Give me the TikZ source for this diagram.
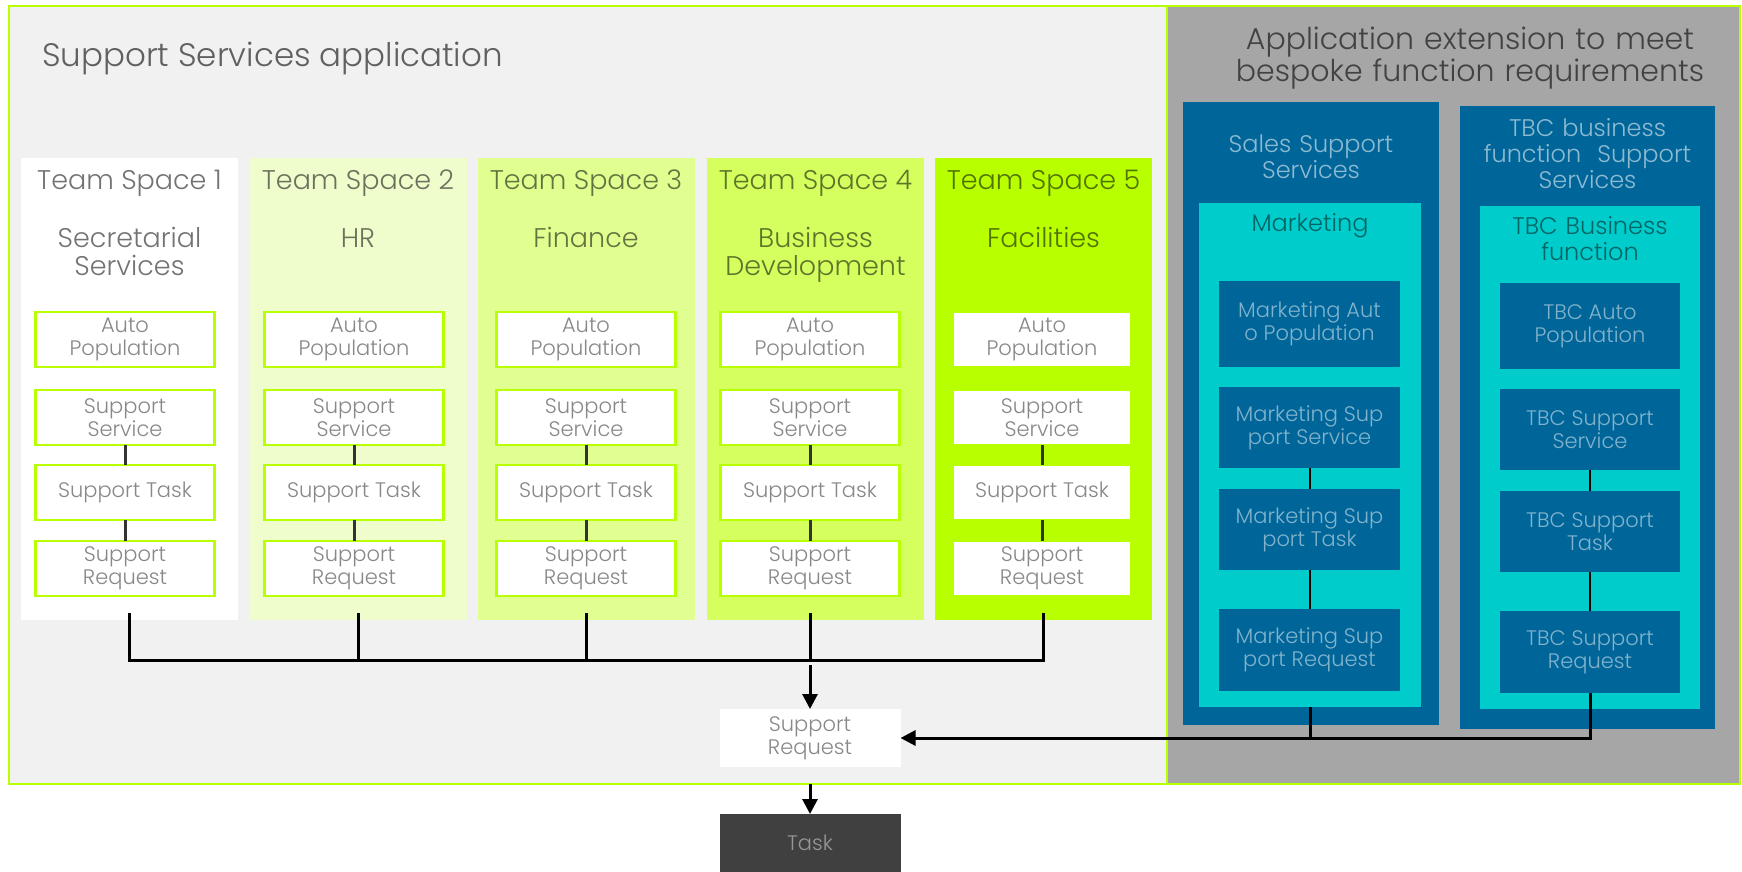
\documentclass[tikz,border=0pt]{standalone}
\usepackage{fontspec}
\setmainfont{Poppins Light}
\usetikzlibrary{arrows.meta}

\definecolor{limeedge}{HTML}{B8FF00}
\definecolor{appbg}{HTML}{F1F1F1}
\definecolor{extbg}{HTML}{A6A6A6}
\definecolor{teamA}{HTML}{FFFFFF}
\definecolor{teamB}{HTML}{EFFDCC}
\definecolor{teamC}{HTML}{E1FF90}
\definecolor{teamD}{HTML}{D4FF5E}
\definecolor{teamE}{HTML}{B8FF00}
\definecolor{steptext}{HTML}{888888}
\definecolor{deepblue}{HTML}{00669A}
\definecolor{aqua}{HTML}{00CCCC}
\definecolor{taskgray}{HTML}{404040}
\definecolor{wiregray}{HTML}{333333}

\tikzset{
  box/.style={rectangle, inner sep=0pt, outer sep=0pt},
  panel/.style={box, draw=limeedge, line width=2pt},
  teambox/.style={box, minimum width=217pt, minimum height=462pt},
  bigtitle/.style={text=black, text opacity=0.6, inner sep=0pt},
  tstitle/.style={font=\fontsize{27}{28}\selectfont, text=black, text opacity=0.55, anchor=base, inner sep=0pt},
  tssub/.style={tstitle, text width=210pt, align=center},
  stepbox/.style={box, draw=limeedge, line width=2.5pt, fill=white, minimum width=179pt,
    minimum height=55pt, align=center, text=steptext, font=\fontsize{21}{23}\selectfont},
  bluebox/.style={box, fill=deepblue},
  aquabox/.style={box, fill=aqua},
  bluetitle/.style={font=\fontsize{24}{26}\selectfont, text=white, text opacity=0.55,
    anchor=base, inner sep=0pt, text width=250pt, align=center},
  aquatitle/.style={font=\fontsize{24}{26}\selectfont, text=black, text opacity=0.5,
    anchor=base, inner sep=0pt, text width=215pt, align=center},
  bluestep/.style={box, fill=deepblue, align=center, text=white, text opacity=0.5,
    font=\fontsize{21}{23}\selectfont},
  plainbox/.style={box, minimum width=181pt, minimum height=58pt, align=center,
    font=\fontsize{21}{23}\selectfont},
  wire/.style={draw=black, line width=3pt},
  innerwire/.style={draw=wiregray, line width=3pt},
  bluewire/.style={draw=black, line width=2pt},
  arrow/.style={wire, -{Triangle[width=15pt,length=15pt]}},
}

\begin{document}
\begin{tikzpicture}[x=1pt, y=-1pt]
  % page
  \fill[white] (0,0) rectangle (1742,872);
  \useasboundingbox (0,0) rectangle (1742,872);

  % the two main panels
  \node[panel, fill=appbg, minimum width=1158pt, minimum height=778pt] (app) at (588,395) {};
  \node[panel, fill=extbg, minimum width=573pt, minimum height=778pt] (ext) at (1453.5,395) {};

  \node[bigtitle, font=\fontsize{32.5}{33}\selectfont, anchor=base west] (apptitle) at (42,67)
    {Support Services application};
  \node[bigtitle, font=\fontsize{30}{32}\selectfont, anchor=base, text width=560pt, align=center]
    (exttitle) at (1470,50) {Application extension to meet\\bespoke function requirements};

  % team spaces
  \node[teambox, fill=teamA] (ts1) at (129.5,389) {};
  \node[teambox, fill=teamB] (ts2) at (358,389) {};
  \node[teambox, fill=teamC] (ts3) at (586,389) {};
  \node[teambox, fill=teamD] (ts4) at (815.5,389) {};
  \node[teambox, fill=teamE] (ts5) at (1043.5,389) {};

  \node[tstitle] (tt1) at (129.5,189) {Team Space 1};
  \node[tstitle] (tt2) at (358,189) {Team Space 2};
  \node[tstitle] (tt3) at (586,189) {Team Space 3};
  \node[tstitle] (tt4) at (815.5,189) {Team Space 4};
  \node[tstitle] (tt5) at (1043.5,189) {Team Space 5};

  \node[tssub] (st1) at (129.5,247) {Secretarial\\Services};
  \node[tssub] (st2) at (358,247) {HR};
  \node[tssub] (st3) at (586,247) {Finance};
  \node[tssub] (st4) at (815.5,247) {Business\\Development};
  \node[tssub] (st5) at (1043.5,247) {Facilities};

  % steps inside each team space
  \foreach \i/\x in {1/125, 2/354, 3/586, 4/810, 5/1042} {
    \node[stepbox] (a\i) at (\x,339.5) {Auto\\Population};
    \node[stepbox] (s\i) at (\x,417.5) {Support\\Service};
    \node[stepbox] (k\i) at (\x,492.5) {Support Task};
    \node[stepbox] (q\i) at (\x,568.5) {Support\\Request};
    \draw[innerwire] (s\i.south) -- (k\i.north);
    \draw[innerwire] (k\i.south) -- (q\i.north);
  }

  % extension: sales support services
  \node[bluebox, minimum width=256pt, minimum height=623pt] (sales) at (1311,413.5) {};
  \node[bluetitle] (salest) at (1311,152) {Sales Support\\Services};
  \node[aquabox, minimum width=222pt, minimum height=504pt] (mkt) at (1310,455) {};
  \node[aquatitle] (mktt) at (1310,231) {Marketing};
  \node[bluestep, minimum width=181pt, minimum height=86pt] (ma) at (1309.5,324) {Marketing Aut\\o Population};
  \node[bluestep, minimum width=181pt, minimum height=81pt] (ms) at (1309.5,427.5) {Marketing Sup\\port Service};
  \node[bluestep, minimum width=181pt, minimum height=81pt] (mk) at (1309.5,529.5) {Marketing Sup\\port Task};
  \node[bluestep, minimum width=181pt, minimum height=82pt] (mq) at (1309.5,650) {Marketing Sup\\port Request};
  \draw[bluewire] (ms.south) -- (mk.north);
  \draw[bluewire] (mk.south) -- (mq.north);

  % extension: TBC business function
  \node[bluebox, minimum width=255pt, minimum height=623pt] (tbc) at (1587.5,417.5) {};
  \node[bluetitle] (tbct) at (1587.5,136) {TBC business\\function\ \ Support\\Services};
  \node[aquabox, minimum width=220pt, minimum height=503pt] (tbf) at (1590,457.5) {};
  \node[aquatitle] (tbft) at (1590,234) {TBC Business\\function};
  \node[bluestep, minimum width=180pt, minimum height=86pt] (ta) at (1590,326) {TBC Auto\\Population};
  \node[bluestep, minimum width=180pt, minimum height=81pt] (ts) at (1590,429.5) {TBC Support\\Service};
  \node[bluestep, minimum width=180pt, minimum height=81pt] (tk) at (1590,531.5) {TBC Support\\Task};
  \node[bluestep, minimum width=180pt, minimum height=82pt] (tq) at (1590,652) {TBC Support\\Request};
  \draw[bluewire] (ts.south) -- (tk.north);
  \draw[bluewire] (tk.south) -- (tq.north);

  % shared request and task
  \node[plainbox, fill=white, text=steptext] (req) at (810,738) {Support\\Request};
  \node[plainbox, fill=taskgray, minimum height=58pt, text=white, text opacity=0.45] (task) at (810,843) {Task};

  % collecting the team space requests
  \coordinate (bus) at (0,660);
  \draw[wire] ([yshift=7pt]ts1.south) -- (ts1.south |- bus)
    -- (ts5.south |- bus) -- ([yshift=7pt]ts5.south);
  \foreach \i in {2,3}
    \draw[wire] ([yshift=7pt]ts\i.south) -- (ts\i.south |- bus);
  \draw[wire] ([yshift=7pt]ts4.south -| q4.south) -- (q4.south |- bus);
  \draw[arrow] ([yshift=-5pt]q4.south |- bus) -- (req.north);

  % requests from the extension
  \draw[arrow] (tq.south) |- (req.east);
  \draw[wire] (mkt.south) -- (mkt.south |- req.east);

  \draw[arrow] (req.south |- app.south) -- (task.north);
\end{tikzpicture}
\end{document}
